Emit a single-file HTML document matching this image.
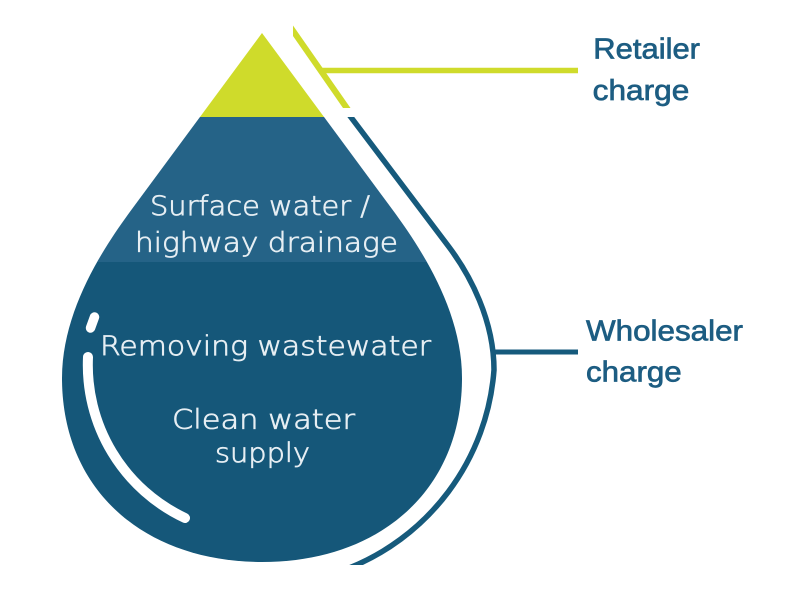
<!DOCTYPE html>
<html>
<head>
<meta charset="utf-8">
<style>
  html,body{margin:0;padding:0;background:#ffffff;}
  body{width:800px;height:600px;overflow:hidden;}
  svg{display:block;}
</style>
</head>
<body>
<svg width="800" height="600" viewBox="0 0 800 600" xmlns="http://www.w3.org/2000/svg">
  <defs>
    <clipPath id="drop">
      <path d="M262,33 L392,209 C420,247 462,310 462,378 C462,490 380,562 262,562 C144,562 62,490 62,378 C62,310 104,247 132,209 Z"/>
    </clipPath>
    <clipPath id="cb">
      <rect x="0" y="117" width="800" height="448"/>
    </clipPath>
  </defs>

  <rect x="0" y="0" width="800" height="600" fill="#ffffff"/>

  <!-- Drop bands -->
  <g clip-path="url(#drop)">
    <rect x="0" y="0" width="800" height="117" fill="#cfdb2b"/>
    <rect x="0" y="117" width="800" height="145" fill="#256387"/>
    <rect x="0" y="262" width="800" height="340" fill="#155779"/>
  </g>

  <!-- Highlight -->
  <line x1="94.5" y1="317" x2="90.5" y2="328" stroke="#ffffff" stroke-width="9.5" stroke-linecap="round"/>
  <path d="M88,357 A169,169 0 0 0 185,518" fill="none" stroke="#ffffff" stroke-width="10" stroke-linecap="round"/>

  <!-- Retailer connector (green) -->
  <polygon points="293,25.5 350.5,108 343,108 293,36" fill="#cfdb2b"/>
  <line x1="320" y1="70.5" x2="578" y2="70.5" stroke="#cfdb2b" stroke-width="5.5"/>

  <!-- Wholesaler connector (blue) -->
  <g clip-path="url(#cb)">
    <path d="M344,108 L449,247 C470,275 494,320 494,370 A232,232 0 0 1 344,570" fill="none" stroke="#165a7c" stroke-width="5.5"/>
  </g>
  <line x1="493" y1="352" x2="578" y2="352" stroke="#165a7c" stroke-width="5"/>

  <!-- Drop text -->
  <g font-family="'DejaVu Sans', 'Liberation Sans', sans-serif" font-size="27" fill="#e6eef3" stroke="#e6eef3" stroke-width="0.7" font-weight="300">
    <text x="150" y="215" textLength="220" lengthAdjust="spacingAndGlyphs">Surface water /</text>
    <text x="135" y="251.7" textLength="263" lengthAdjust="spacingAndGlyphs">highway drainage</text>
    <text x="100" y="355" textLength="331" lengthAdjust="spacingAndGlyphs">Removing wastewater</text>
    <text x="172" y="428.3" textLength="183" lengthAdjust="spacingAndGlyphs">Clean water</text>
    <text x="215" y="462" textLength="95" lengthAdjust="spacingAndGlyphs">supply</text>
  </g>

  <!-- Labels -->
  <g font-family="'Liberation Sans', Arial, sans-serif" font-size="29" fill="#1d5d82" stroke="#1d5d82" stroke-width="0.7">
    <text x="593.3" y="58.3" textLength="106.7" lengthAdjust="spacingAndGlyphs">Retailer</text>
    <text x="592.7" y="100" textLength="96.6" lengthAdjust="spacingAndGlyphs">charge</text>
    <text x="586" y="340.7" textLength="157" lengthAdjust="spacingAndGlyphs">Wholesaler</text>
    <text x="586" y="381.7" textLength="95.7" lengthAdjust="spacingAndGlyphs">charge</text>
  </g>
</svg>
</body>
</html>
